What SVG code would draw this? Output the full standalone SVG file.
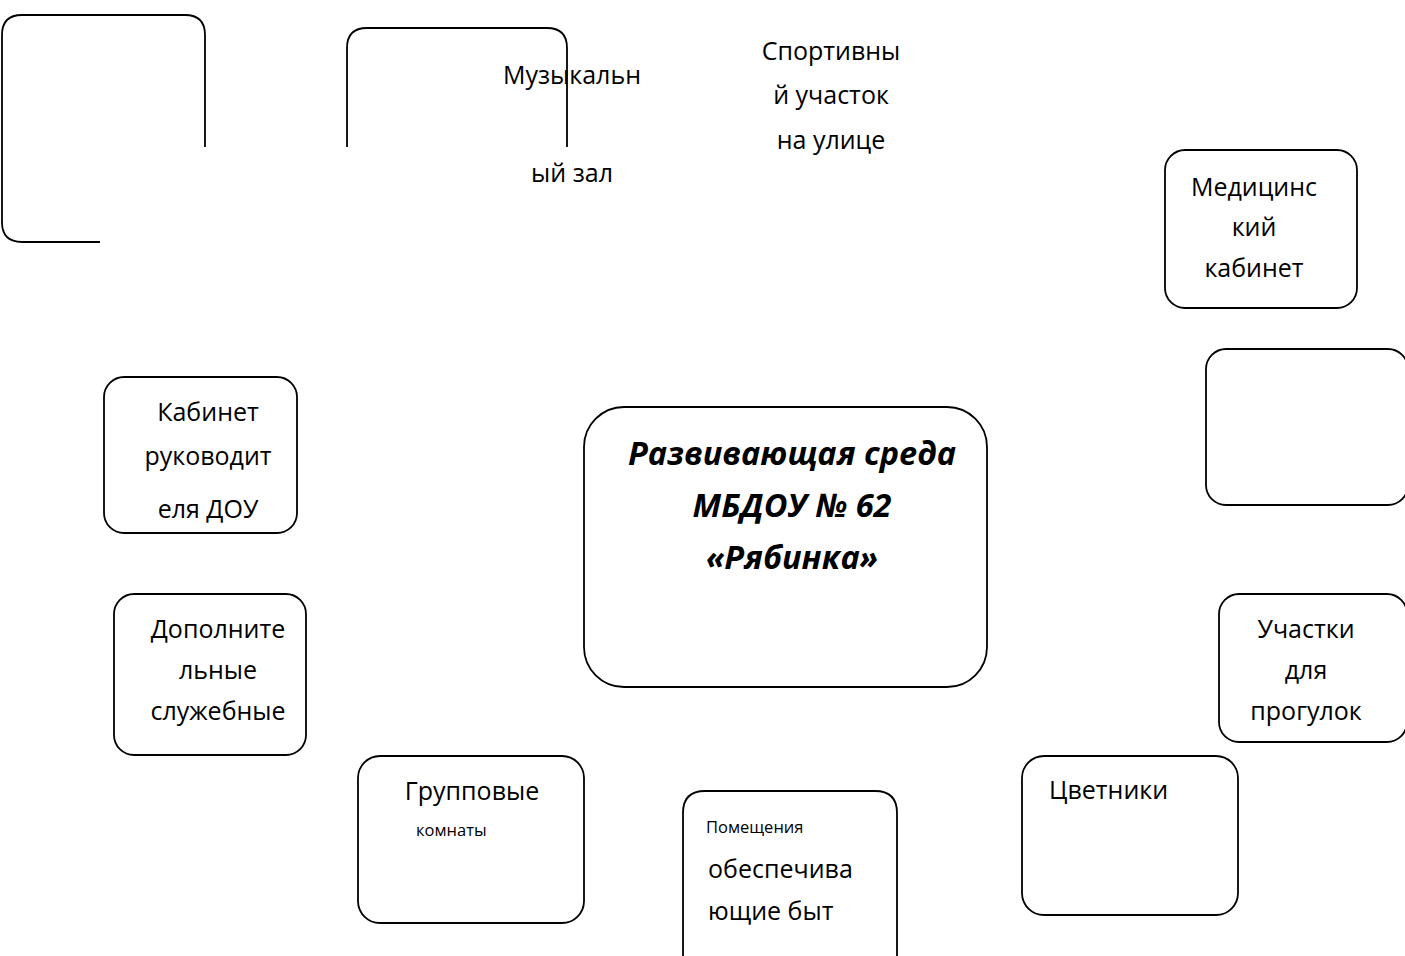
<svg xmlns="http://www.w3.org/2000/svg" width="1405" height="956" viewBox="0 0 1405 956">
<style>
.box{fill:none;stroke:#000;stroke-width:1.8}
.t{font-family:"Open Sans","Noto Sans",sans-serif;font-size:25px;fill:#000}
.c{text-anchor:middle}
.s{font-size:16.5px}
.h{font-family:"Open Sans","Noto Sans",sans-serif;font-size:32.5px;font-weight:bold;font-style:italic;fill:#000;text-anchor:middle}
</style>
<rect width="1405" height="956" fill="#fff"/>
<g id="connectors"/>
<g id="n-blank1">
<path class="box" d="M100 242 H22 Q2 242 2 222 V35 Q2 15 22 15 H185 Q205 15 205 35 V147"/>
</g>
<g id="n-music">
<path class="box" d="M347 147 V48 Q347 28 367 28 H547 Q567 28 567 48 V147"/>
<text class="t c" x="572" y="84">Музыкальн</text>
<text class="t c" x="572" y="182">ый зал</text>
</g>
<g id="n-sport">
<text class="t c" x="831" y="60">Спортивны</text>
<text class="t c" x="831" y="104">й участок</text>
<text class="t c" x="831" y="149">на улице</text>
</g>
<g id="n-med">
<rect class="box" x="1165" y="150" width="192" height="158" rx="20"/>
<text class="t c" x="1254" y="196">Медицинс</text>
<text class="t c" x="1254" y="236">кий</text>
<text class="t c" x="1254" y="277">кабинет</text>
</g>
<g id="n-blank2">
<rect class="box" x="1206" y="349" width="202" height="156" rx="20"/>
</g>
<g id="n-walk">
<rect class="box" x="1219" y="594" width="188" height="148" rx="20"/>
<text class="t c" x="1306" y="638">Участки</text>
<text class="t c" x="1306" y="679">для</text>
<text class="t c" x="1306" y="720">прогулок</text>
</g>
<g id="n-head">
<rect class="box" x="104" y="377" width="193" height="156" rx="20"/>
<text class="t c" x="208" y="421">Кабинет</text>
<text class="t c" x="208" y="465">руководит</text>
<text class="t c" x="208" y="518">еля ДОУ</text>
</g>
<g id="n-extra">
<rect class="box" x="114" y="594" width="192" height="161" rx="20"/>
<text class="t c" x="218" y="638">Дополните</text>
<text class="t c" x="218" y="679">льные</text>
<text class="t c" x="218" y="720">служебные</text>
</g>
<g id="n-center">
<rect class="box" x="584" y="407" width="403" height="280" rx="40"/>
<text class="h" x="792" y="465">Развивающая среда</text>
<text class="h" x="792" y="517">МБДОУ № 62</text>
<text class="h" x="792" y="569">«Рябинка»</text>
</g>
<g id="n-group">
<rect class="box" x="358" y="756" width="226" height="167" rx="22"/>
<text class="t c" x="472" y="800">Групповые</text>
<text class="t s" x="416" y="836">комнаты</text>
</g>
<g id="n-living">
<path class="box" d="M683 960 V813 Q683 791 705 791 H875 Q897 791 897 813 V960"/>
<text class="t s" x="706" y="833">Помещения</text>
<text class="t" x="708" y="878">обеспечива</text>
<text class="t" x="708" y="920">ющие быт</text>
</g>
<g id="n-flowers">
<rect class="box" x="1022" y="756" width="216" height="159" rx="22"/>
<text class="t" x="1049" y="799">Цветники</text>
</g>
</svg>
